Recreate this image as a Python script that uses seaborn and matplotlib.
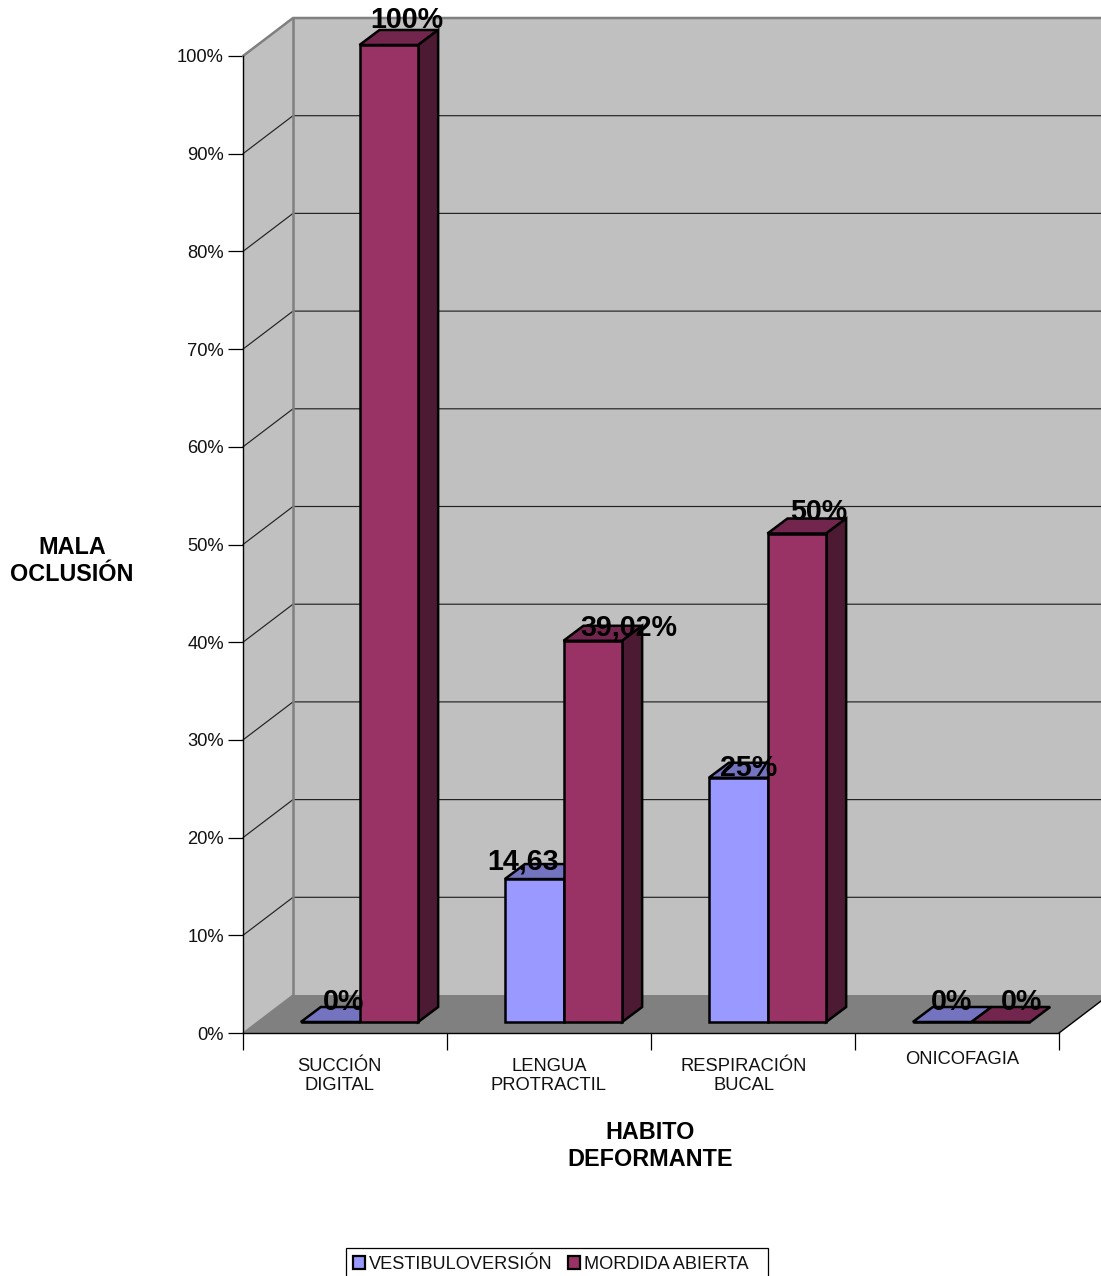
import matplotlib
matplotlib.use("Agg")
import matplotlib.pyplot as plt
from matplotlib.patches import Polygon, Patch, Rectangle
import pandas as pd
import seaborn as sns

categories = ["SUCCIÓN\nDIGITAL", "LENGUA\nPROTRACTIL", "RESPIRACIÓN\nBUCAL", "ONICOFAGIA"]
series_names = ["VESTIBULOVERSIÓN", "MORDIDA ABIERTA"]
vestibuloversion = [0, 14.63, 25, 0]
mordida_abierta = [100, 39.02, 50, 0]
vest_labels = ["0%", "14,63", "25%", "0%"]
mord_labels = ["100%", "39,02%", "50%", "0%"]
y_ticks = [0, 10, 20, 30, 40, 50, 60, 70, 80, 90, 100]

# layout, in pixels
W, H = 1101, 1276
L, R, T, B = 243, 1059, 56, 1033
WALL = (50, 38)
BAR_OFF = (14.5, 11)
BAR_DEPTH = (20, 15)
vest_off = [(13.5, 20.5), (-11.5, 18), (10.5, 9.5), (9.5, 20.5)]
mord_off = [(17.5, 24.5), (36.5, 13.5), (21.5, 21.5), (20.5, 20.5)]
cat_off = [(-6, 43), (0, 43), (-9, 43), (5, 26)]

BLUE, RED = "#9999FF", "#993366"
BLUE_TOP, RED_TOP = "#7373C0", "#73264D"
RED_SIDE = "#4D1A33"
WALL_C, FLOOR_C, EDGE_C = "#C0C0C0", "#808080", "#808080"

sns.set_theme(style="white")
plt.rcParams["font.family"] = ["Liberation Sans", "DejaVu Sans"]

fig = plt.figure(figsize=(W / 100, H / 100), dpi=100)
ax = fig.add_axes([L / W, 1 - B / H, (R - L) / W, (B - T) / H])
ax.patch.set_visible(False)

df = pd.DataFrame({
    "cat": categories * 2,
    "val": vestibuloversion + mordida_abierta,
    "serie": [series_names[0]] * 4 + [series_names[1]] * 4,
})
sns.barplot(data=df, x="cat", y="val", hue="serie", palette=[BLUE, RED], width=0.575,
            gap=0, saturation=1, legend=False, edgecolor="black", linewidth=1.8,
            zorder=5, ax=ax)
x0, x1 = -0.5, 3.5
ax.set_xlim(x0, x1)
ax.set_ylim(0, 100)
ux = (x1 - x0) / (R - L)
uy = 100 / (B - T)


def shift(x, y, off):
    return x + off[0] * ux, y + off[1] * uy


def poly(pts, fc, ec="none", lw=0, z=1):
    ax.add_patch(Polygon(pts, closed=True, fc=fc, ec=ec, lw=lw, zorder=z,
                         clip_on=False, joinstyle="miter"))


# walls and floor
ymax = 100
poly([(x0, 0), shift(x0, 0, WALL), shift(x0, ymax, WALL), (x0, ymax)], WALL_C)
poly([shift(x0, 0, WALL), shift(x1, 0, WALL), shift(x1, ymax, WALL), shift(x0, ymax, WALL)], WALL_C)
poly([(x0, 0), (x1, 0), shift(x1, 0, WALL), shift(x0, 0, WALL)], FLOOR_C)

# gridlines on both walls
for t in y_ticks[1:-1]:
    a = shift(x0, t, WALL)
    b = shift(x1, t, WALL)
    ax.plot([x0, a[0], b[0]], [t, a[1], b[1]], color="#222222", lw=0.85, zorder=2, clip_on=False)
top_a = shift(x0, ymax, WALL)
top_b = shift(x1, ymax, WALL)
base_a = shift(x0, 0, WALL)
ax.plot([x0, top_a[0], top_b[0]], [ymax, top_a[1], top_b[1]], color=EDGE_C, lw=1.8, zorder=2, clip_on=False)
ax.plot([base_a[0], top_a[0]], [base_a[1], top_a[1]], color=EDGE_C, lw=1.8, zorder=2, clip_on=False)
ax.plot([base_a[0], x0], [base_a[1], 0], color=EDGE_C, lw=1.0, zorder=2, clip_on=False)
fl = shift(x1, 0, WALL)
ax.plot([x1, fl[0]], [0, fl[1]], color="black", lw=1.0, zorder=2, clip_on=False)

# bars: front face moved on the floor, then top and side faces
for s, (cont, top_c) in enumerate(zip(ax.containers, [BLUE_TOP, RED_TOP])):
    for bar in cont:
        x, w, h = bar.get_x(), bar.get_width(), bar.get_height()
        fx, fy = shift(x, 0, BAR_OFF)
        bar.set_x(fx)
        bar.set_y(fy)
        bar.set_clip_on(False)
        bar.set_zorder(5 + s * 2)
        a = (fx, fy + h)
        b = (fx + w, fy + h)
        poly([a, b, shift(*b, BAR_DEPTH), shift(*a, BAR_DEPTH)], top_c, "black", 1.8, 4 + s * 2)
        if s == 1 and h > 0:
            poly([(fx + w, fy), b, shift(*b, BAR_DEPTH), shift(fx + w, fy, BAR_DEPTH)],
                 RED_SIDE, "black", 1.8, 4 + s * 2)

# data labels
for i in range(4):
    for vals, labs, offs in [(vestibuloversion, vest_labels, vest_off),
                             (mordida_abierta, mord_labels, mord_off)]:
        side = -1 if vals is vestibuloversion else 1
        xc = i + side * 0.575 / 4
        ax.annotate(labs[i], xy=(xc, vals[i]), xytext=(BAR_OFF[0] + offs[i][0], BAR_OFF[1] + offs[i][1]),
                    textcoords="offset pixels", ha="center", va="center", fontsize=20.6,
                    fontweight="bold", color="black", zorder=20, annotation_clip=False)

# axes furniture
for name in ["top", "right"]:
    ax.spines[name].set_visible(False)
for name in ["left", "bottom"]:
    ax.spines[name].set_visible(True)
    ax.spines[name].set_color("black")
    ax.spines[name].set_linewidth(1.0)
    ax.spines[name].set_zorder(3)
ax.set_yticks(y_ticks)
ax.set_yticklabels([f"{t}%" for t in y_ticks])
ax.tick_params(axis="y", left=True, length=10.8, width=0.9, color="black", pad=3,
               labelsize=13.2, labelcolor="#111111")
ax.set_xticks([x0, 0.5, 1.5, 2.5, x1])
ax.set_xticklabels([])
ax.tick_params(axis="x", bottom=True, length=12.2, width=0.9, color="black")

for i, c in enumerate(categories):
    ax.annotate(c, xy=(i, 0), xytext=(cat_off[i][0], -cat_off[i][1]),
                textcoords="offset pixels", ha="center", va="center", fontsize=13.2,
                linespacing=1.17, color="#111111", annotation_clip=False)

ax.set_xlabel("HABITO\nDEFORMANTE", fontsize=16.8, fontweight="bold", color="black", linespacing=1.2)
ax.xaxis.set_label_coords((650 - L) / (R - L), -(1146 - B) / (B - T))
ax.xaxis.label.set_verticalalignment("center")
ax.set_ylabel("MALA\nOCLUSIÓN", fontsize=16.8, fontweight="bold", color="black", rotation=0,
              ha="center", va="center", linespacing=1.2)
ax.yaxis.set_label_coords((72 - L) / (R - L), (B - 561) / (B - T))

# legend: its frame runs past the lower edge of the image, as in the reference
fig.add_artist(Rectangle((346 / W, -4 / H), (768 - 346) / W, (1280 - 1248) / H,
                         transform=fig.transFigure, fc="white", ec="black", lw=0.9))
handles = [Patch(fc=BLUE, ec="black", lw=1.6, label=series_names[0]),
           Patch(fc=RED, ec="black", lw=1.6, label=series_names[1])]
leg = fig.legend(handles=handles, loc="lower left", ncol=2,
                 bbox_to_anchor=(353 / W, 3 / H), fontsize=13.1, frameon=False,
                 handlelength=0.66, handleheight=0.66,
                 handletextpad=0.24, columnspacing=0.8, borderpad=0, borderaxespad=0)
leg.set_zorder(10)
for t in leg.get_texts():
    t.set_color("#111111")

fig.savefig("out.png", dpi=100)
